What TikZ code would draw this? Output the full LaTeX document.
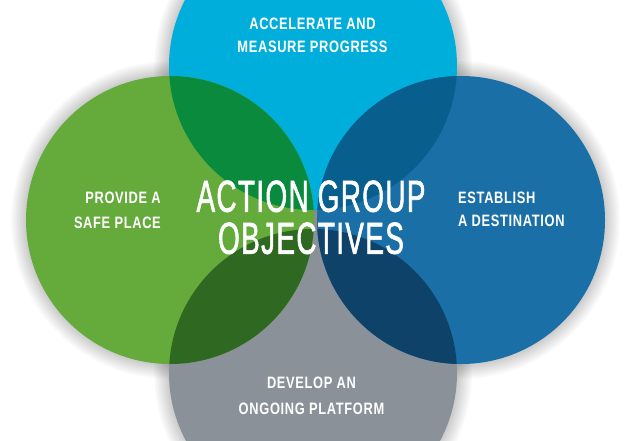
\documentclass[tikz,border=0pt]{standalone}
\usepackage{fontspec}
\setmainfont{Liberation Sans}
\newfontfamily\titlefont[FakeStretch=0.62,FakeBold=1.2,LetterSpace=3]{Liberation Sans}
\newfontfamily\labelfont[FakeStretch=0.78,LetterSpace=4]{Liberation Sans Bold}
\definecolor{cCyan}{RGB}{0,174,219}
\definecolor{cGreen}{RGB}{100,171,60}
\definecolor{cGreenCyan}{RGB}{10,138,60}
\definecolor{cBlue}{RGB}{26,111,166}
\definecolor{cBlueCyan}{RGB}{8,94,140}
\definecolor{cGray}{RGB}{138,145,152}
\definecolor{cGreenGray}{RGB}{46,104,33}
\definecolor{cBlueGray}{RGB}{14,66,105}
\tikzset{
  lbl/.style={text=white, inner sep=0pt, text depth=0pt, font=\labelfont\fontsize{16.5}{23}\selectfont},
  ttl/.style={text=white, inner sep=0pt, text depth=0pt, align=center, font=\titlefont\fontsize{45}{42}\selectfont},
}
\begin{document}
\begin{tikzpicture}[x=1pt,y=-1pt]
\useasboundingbox (0,0) rectangle (640,440);
\fill[white] (0,0) rectangle (640,440);
\def\R{144}
\coordinate (ct) at (313,66);
\coordinate (cb) at (313,373);
\coordinate (cl) at (170,220);
\coordinate (cr) at (461,220);
% soft shadows
\foreach \c in {ct,cb,cl,cr}{
  \foreach \k in {1,...,10}{
    \fill[black, opacity=0.02] (\c) circle[radius=\R+1.5*\k];
  }
}
% circles
\fill[cCyan] (ct) circle[radius=\R];
\fill[cGray] (cb) circle[radius=\R];
\fill[cGreen] (cl) circle[radius=\R];
\fill[cBlue] (cr) circle[radius=\R];
% overlaps
\begin{scope}
  \clip (cl) circle[radius=\R];
  \fill[cGreenCyan] (ct) circle[radius=\R];
  \fill[cGreenGray] (cb) circle[radius=\R];
\end{scope}
\begin{scope}
  \clip (cr) circle[radius=\R];
  \fill[cBlueCyan] (ct) circle[radius=\R];
  \fill[cBlueGray] (cb) circle[radius=\R];
\end{scope}
% labels
\node[lbl, align=center, anchor=south] (top) at (312.5,53) {ACCELERATE AND\\MEASURE PROGRESS};
\node[lbl, align=center, anchor=south, font=\labelfont\fontsize{16.5}{26}\selectfont] (bottom) at (311.5,415) {DEVELOP AN\\ONGOING PLATFORM};
\node[lbl, align=right, anchor=south east, font=\labelfont\fontsize{16.5}{25}\selectfont] (left) at (161,229) {PROVIDE A\\SAFE PLACE};
\node[lbl, align=left, anchor=south west] (right) at (458,227) {ESTABLISH\\A DESTINATION};
\node[ttl, anchor=south] (title) at (311,254) {ACTION GROUP\\OBJECTIVES};
\end{tikzpicture}
\end{document}
